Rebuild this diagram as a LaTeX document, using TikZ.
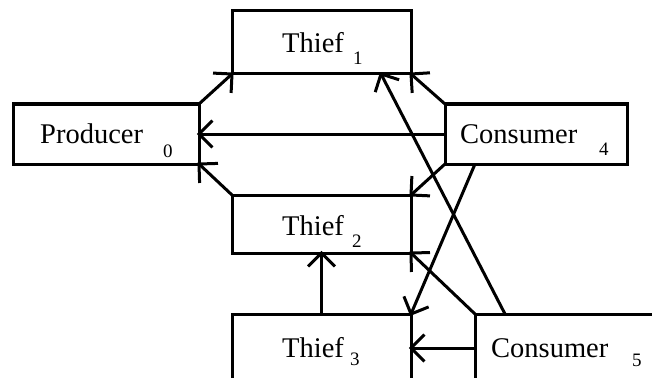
\documentclass[tikz,border=0pt]{standalone}
\usepackage{fontspec}
\setmainfont{Liberation Serif}
\usetikzlibrary{calc}

\tikzset{
  box/.style={draw, rectangle, inner sep=0pt, outer sep=0pt, line width=3pt},
  flow/.style={line width=3pt},
  lbl/.style={anchor=base west, inner sep=0pt, font=\fontsize{28.5}{30}\selectfont},
  idx/.style={anchor=base west, inner sep=0pt, font=\fontsize{19}{20}\selectfont},
}
% a connector from #1 to #2 with an open 90-degree head at #2
\newcommand\flowarrow[2]{%
  \draw[flow] (#1) -- (#2);
  \draw[flow] ($(#2)!19pt!45:(#1)$) -- (#2) -- ($(#2)!19pt!-45:(#1)$);
}

\begin{document}
\begin{tikzpicture}[x=1pt, y=-1pt]
\useasboundingbox (0,0) rectangle (652,377);
\begin{scope}
\clip (0,0) rectangle (652,377);

% process boxes
\node[box, minimum width=186pt, minimum height=60pt] (P)  at (106,134)   {};
\node[box, minimum width=179pt, minimum height=63pt] (T1) at (321.5,42.5) {};
\node[box, minimum width=179pt, minimum height=58pt] (T2) at (321.5,224) {};
\node[box, minimum width=179pt, minimum height=86pt] (T3) at (321.5,357) {};
\node[box, minimum width=182pt, minimum height=60pt] (C4) at (536,134)   {};
\node[box, minimum width=225pt, minimum height=86pt] (C5) at (587.5,357) {};

% labels with their indices
\node[lbl] (pl)  at (40,143)  {Producer};
\node[idx] (pi)  at (163,157) {0};
\node[lbl] (t1l) at (282,53)  {Thief};
\node[idx] (t1i) at (353,65)  {1};
\node[lbl] (t2l) at (282,235) {Thief};
\node[idx] (t2i) at (352,247) {2};
\node[lbl] (t3l) at (282,357) {Thief};
\node[idx] (t3i) at (350,365) {3};
\node[lbl] (c4l) at (460,143) {Consumer};
\node[idx] (c4i) at (599,155) {4};
\node[lbl] (c5l) at (491,357) {Consumer};
\node[idx] (c5i) at (632,366) {5};

% attachment points
\coordinate (c4b) at ([xshift=30pt]C4.south west);
\coordinate (c5w) at ([yshift=-34pt]C5.north west);
\coordinate (t3e) at (c5w -| T3.east);
\coordinate (c5t) at ([xshift=30pt]C5.north west);
\coordinate (t1b) at ([xshift=-30pt]T1.south east);

% connectors
\flowarrow{P.north east}{T1.south west}
\flowarrow{C4.north west}{T1.south east}
\flowarrow{C4.west}{P.east}
\flowarrow{T2.north west}{P.south east}
\flowarrow{C4.south west}{T2.north east}
\flowarrow{C5.north west}{T2.south east}
\flowarrow{T3.north}{T2.south}
\flowarrow{c4b}{T3.north east}
\flowarrow{c5w}{t3e}
\flowarrow{c5t}{t1b}
\end{scope}
\end{tikzpicture}
\end{document}
